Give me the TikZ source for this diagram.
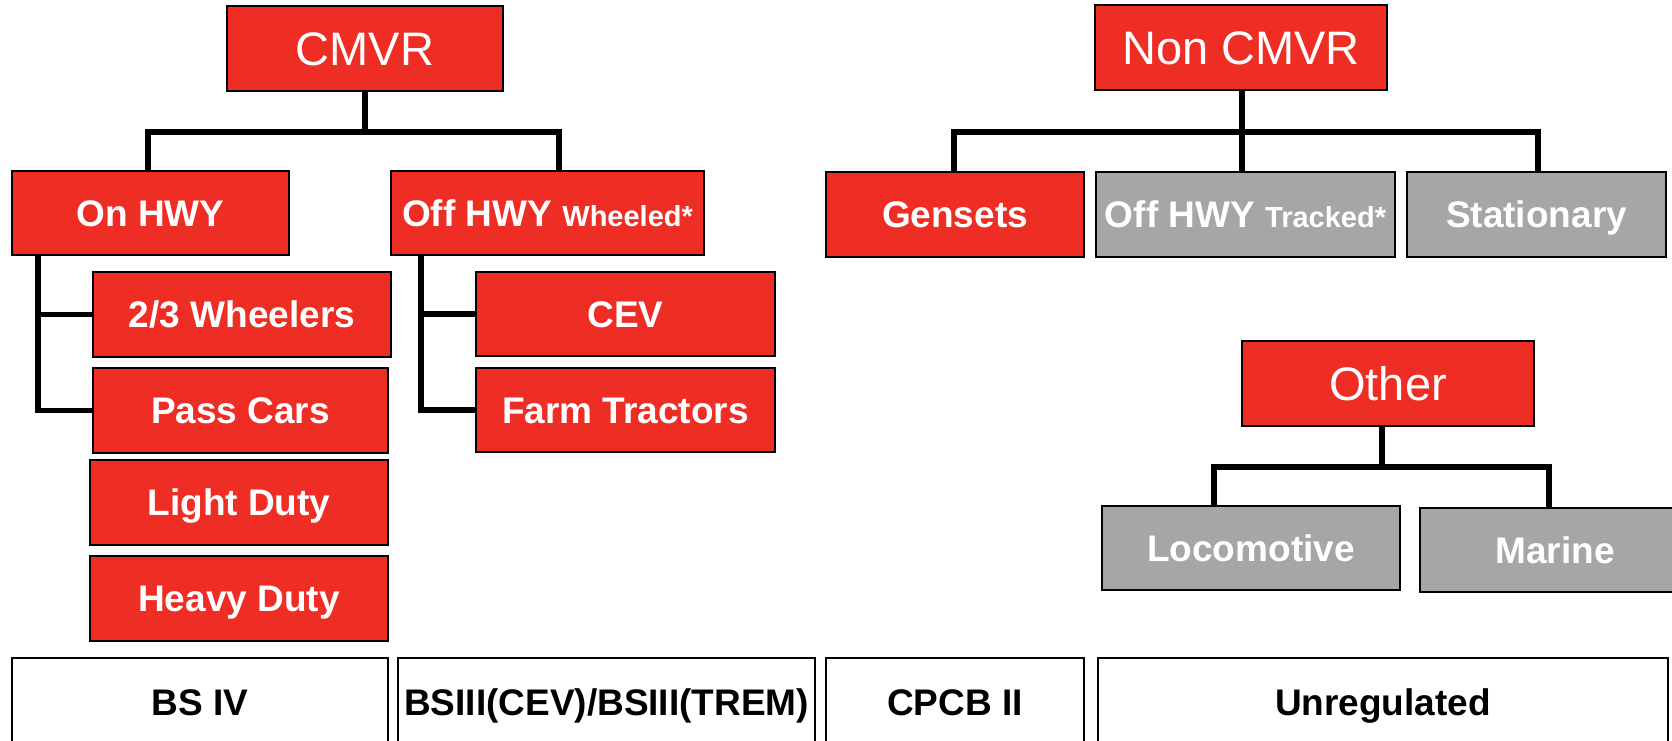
\documentclass[tikz,border=0pt]{standalone}
\usepackage{fontspec}
\setmainfont{Liberation Sans}
\definecolor{boxred}{RGB}{238,45,37}
\definecolor{boxgray}{RGB}{166,166,166}
\begin{document}
\begin{tikzpicture}[x=1pt,y=-1pt,
  base/.style={draw=black,line width=2pt,rectangle,inner sep=0pt,align=center},
  redbox/.style={base,fill=boxred,text=white},
  graybox/.style={base,fill=boxgray,text=white},
  whitebox/.style={base,fill=white,text=black},
  big/.style={font=\fontsize{47}{50}\selectfont,text height=33.6pt,text depth=0pt},
  lbl/.style={font=\fontsize{37}{40}\selectfont\bfseries,text height=26.5pt,text depth=0pt},
  conn/.style={draw=black,line width=5.5pt,line join=miter}]
\useasboundingbox (0,0) rectangle (1672,741);
\begin{scope}
\clip (0,0) rectangle (1672,741);
% top level
\node[redbox,big,minimum width=276,minimum height=85] (cmvr) at (365,48.5) {CMVR};
\node[redbox,big,minimum width=292,minimum height=85] (noncmvr) at (1241,47.5) {Non CMVR};
% CMVR children
\node[redbox,lbl,minimum width=277,minimum height=84] (onhwy) at (150.5,213) {On HWY};
\node[redbox,lbl,minimum width=313,minimum height=84] (offhwy) at (547.5,213) {Off HWY {\fontsize{29}{30}\selectfont Wheeled*}};
\node[redbox,lbl,minimum width=298,minimum height=85] (w23) at (242,314.5) {2/3 Wheelers};
\node[redbox,lbl,minimum width=295,minimum height=85] (pass) at (240.5,410.5) {Pass Cars};
\node[redbox,lbl,minimum width=298,minimum height=85] (light) at (239,502.5) {Light Duty};
\node[redbox,lbl,minimum width=298,minimum height=85] (heavy) at (239,598.5) {Heavy Duty};
\node[redbox,lbl,minimum width=299,minimum height=84] (cev) at (625.5,314) {CEV};
\node[redbox,lbl,minimum width=299,minimum height=84] (farm) at (625.5,410) {Farm Tractors};
% Non CMVR children
\node[redbox,lbl,minimum width=258,minimum height=85] (gensets) at (955,214.5) {Gensets};
\node[graybox,lbl,minimum width=299,minimum height=85] (tracked) at (1245.5,214.5) {Off HWY {\fontsize{29}{30}\selectfont Tracked*}};
\node[graybox,lbl,minimum width=259,minimum height=85] (stationary) at (1536.5,214.5) {Stationary};
% Other
\node[redbox,big,minimum width=292,minimum height=85] (other) at (1388,383.5) {Other};
\node[graybox,lbl,minimum width=298,minimum height=84] (loco) at (1251,548) {Locomotive};
\node[graybox,lbl,minimum width=270,minimum height=84] (marine) at (1555,550) {Marine};
% bottom row
\node[whitebox,lbl,minimum width=376,minimum height=88] (bsiv) at (200,702) {BS IV};
\node[whitebox,lbl,minimum width=417,minimum height=88] (bsiii) at (606.5,702) {BSIII(CEV)/BSIII(TREM)};
\node[whitebox,lbl,minimum width=258,minimum height=88] (cpcb) at (955,702) {CPCB II};
\node[whitebox,lbl,minimum width=570,minimum height=88] (unreg) at (1383,702) {Unregulated};
% connector coordinates
\coordinate (b1m) at (365,132);
\coordinate (b1l) at (148,132);
\coordinate (b1r) at (559,132);
\coordinate (b2l) at (954,132);
\coordinate (b2m) at (1242,132);
\coordinate (b2r) at (1538,132);
\coordinate (b3m) at (1382,467);
\coordinate (b3l) at (1214,467);
\coordinate (b3r) at (1549,467);
\coordinate (v1) at (38,0);
\coordinate (v2) at (421,0);
% CMVR tree
\draw[conn] (cmvr.south -| b1m) -- (b1m);
\draw[conn] (onhwy.north -| b1l) -- (b1l) -- (b1r) -- (offhwy.north -| b1r);
\draw[conn] (onhwy.south -| v1) |- (pass.west);
\draw[conn] (w23.west) -- (w23.west -| v1);
\draw[conn] (offhwy.south -| v2) |- (farm.west);
\draw[conn] (cev.west) -- (cev.west -| v2);
% Non CMVR tree
\draw[conn] (noncmvr.south -| b2m) -- (b2m);
\draw[conn] (gensets.north -| b2l) -- (b2l) -- (b2r) -- (stationary.north -| b2r);
\draw[conn] (b2m) -- (tracked.north -| b2m);
% Other tree
\draw[conn] (other.south -| b3m) -- (b3m);
\draw[conn] (loco.north -| b3l) -- (b3l) -- (b3r) -- (marine.north -| b3r);
\end{scope}
\end{tikzpicture}
\end{document}
